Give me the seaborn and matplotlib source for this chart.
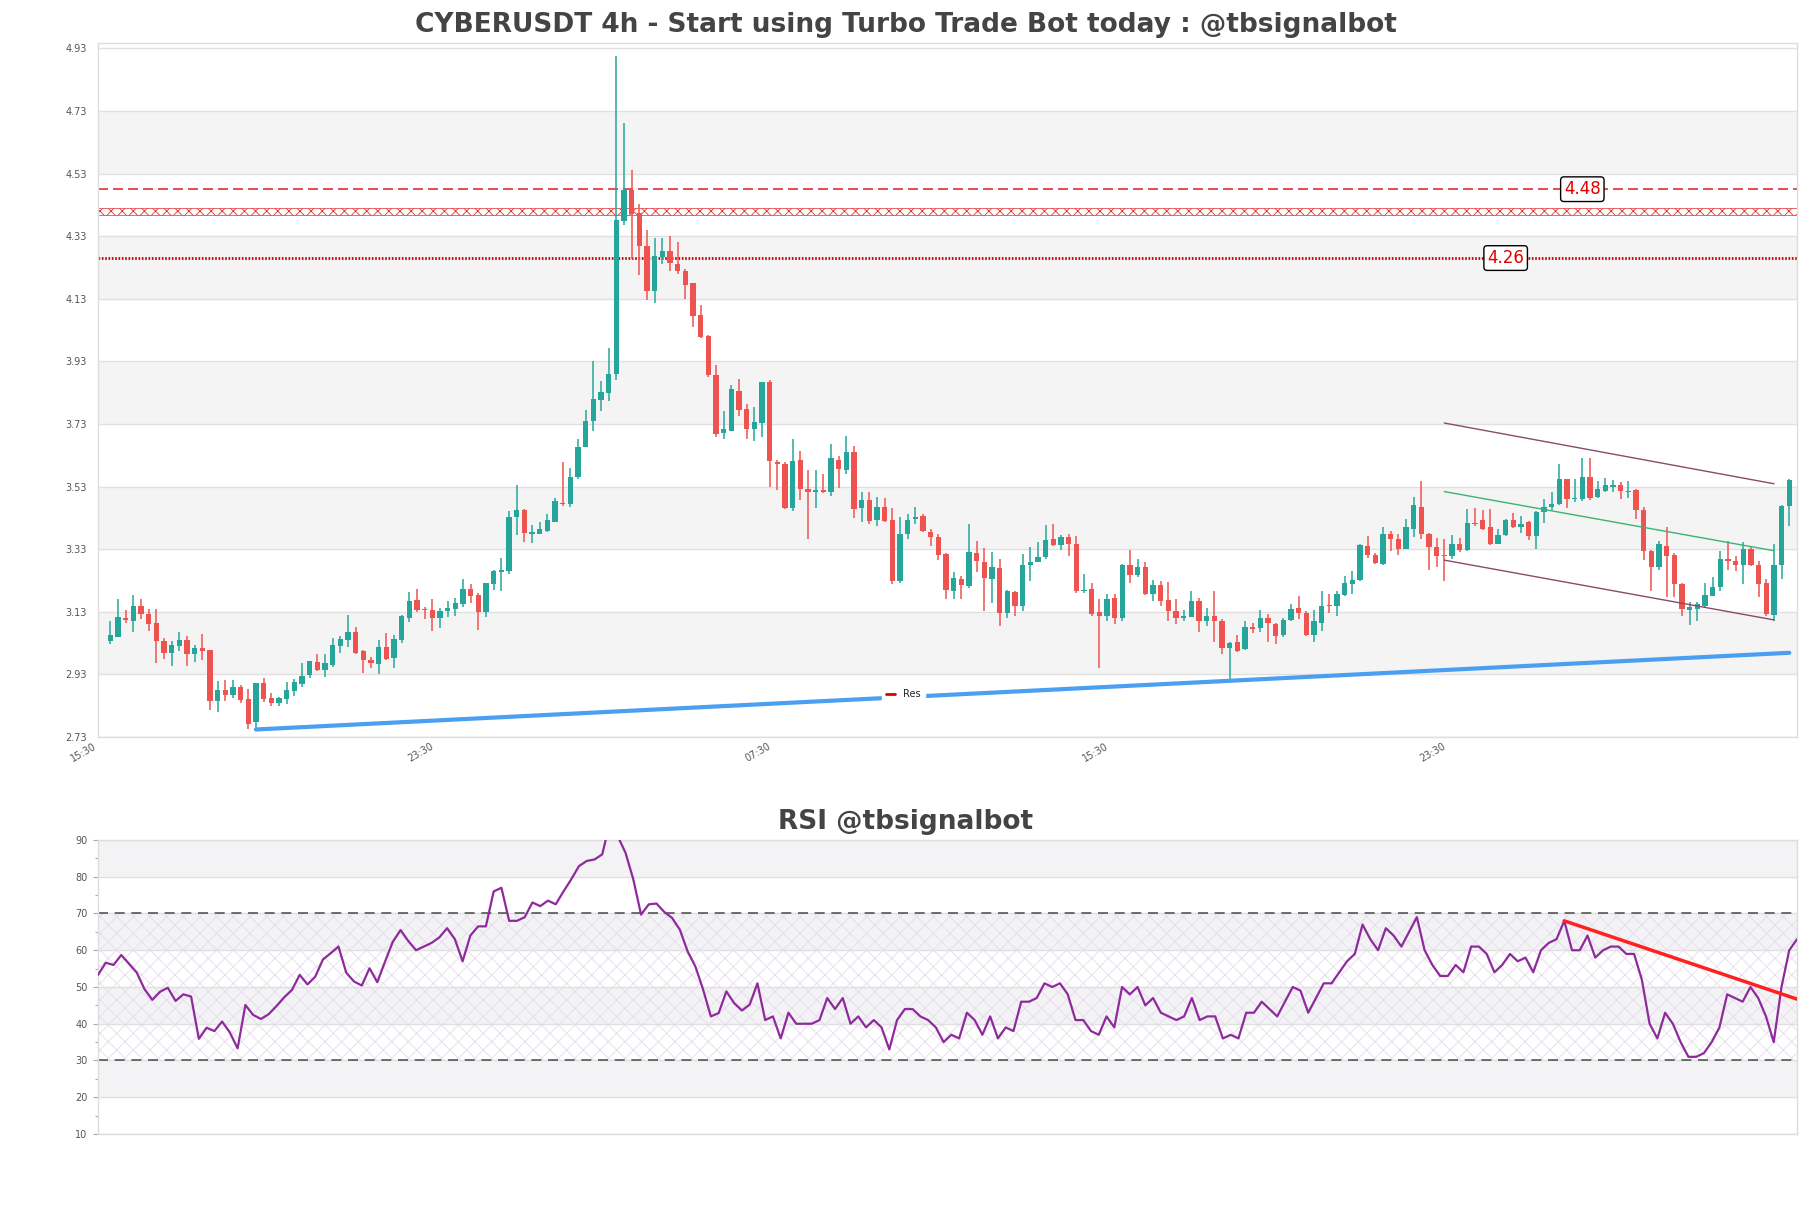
import numpy as np
import pandas as pd
import seaborn as sns
import matplotlib.pyplot as plt
from matplotlib.lines import Line2D

# ---- data ----
opens = [3.038, 3.050, 3.110, 3.101, 3.149, 3.124, 3.095, 3.037, 2.999, 3.021,
         3.040, 2.996, 3.014, 3.008, 2.845, 2.880, 2.865, 2.889, 2.852, 2.778,
         2.902, 2.855, 2.839, 2.852, 2.877, 2.899, 2.928, 2.969, 2.944, 2.960,
         3.021, 3.040, 3.065, 3.006, 2.976, 2.963, 3.017, 2.982, 3.040, 3.110,
         3.168, 3.139, 3.136, 3.110, 3.133, 3.139, 3.155, 3.203, 3.184, 3.130,
         3.219, 3.258, 3.261, 3.433, 3.455, 3.378, 3.380, 3.389, 3.418, 3.479,
         3.475, 3.561, 3.658, 3.740, 3.807, 3.830, 3.889, 4.378, 4.479, 4.403,
         4.300, 4.155, 4.264, 4.284, 4.241, 4.218, 4.179, 4.078, 4.010, 3.887,
         3.701, 3.709, 3.835, 3.778, 3.715, 3.732, 3.864, 3.610, 3.603, 3.461,
         3.616, 3.521, 3.514, 3.519, 3.514, 3.616, 3.584, 3.639, 3.461, 3.487,
         3.424, 3.466, 3.424, 3.229, 3.378, 3.427, 3.435, 3.386, 3.370, 3.315,
         3.195, 3.234, 3.211, 3.318, 3.289, 3.234, 3.270, 3.125, 3.193, 3.150,
         3.278, 3.289, 3.305, 3.364, 3.344, 3.369, 3.347, 3.197, 3.202, 3.128,
         3.115, 3.175, 3.111, 3.280, 3.248, 3.273, 3.187, 3.216, 3.168, 3.133,
         3.109, 3.114, 3.165, 3.101, 3.115, 3.101, 3.015, 3.034, 3.011, 3.080,
         3.077, 3.109, 3.091, 3.056, 3.103, 3.141, 3.125, 3.056, 3.095, 3.150,
         3.147, 3.184, 3.218, 3.230, 3.341, 3.313, 3.284, 3.377, 3.361, 3.331,
         3.393, 3.465, 3.377, 3.336, 3.313, 3.308, 3.348, 3.327, 3.414, 3.423,
         3.401, 3.348, 3.374, 3.422, 3.401, 3.416, 3.371, 3.448, 3.464, 3.473,
         3.553, 3.489, 3.491, 3.562, 3.497, 3.516, 3.530, 3.534, 3.512, 3.519,
         3.455, 3.323, 3.272, 3.341, 3.313, 3.220, 3.136, 3.139, 3.147, 3.182,
         3.208, 3.299, 3.293, 3.278, 3.329, 3.281, 3.222, 3.120, 3.281, 3.468]
highs = [3.099, 3.171, 3.136, 3.184, 3.171, 3.139, 3.139, 3.046, 3.037, 3.065,
         3.053, 3.024, 3.059, 3.008, 2.909, 2.912, 2.912, 2.896, 2.883, 2.902,
         2.918, 2.871, 2.858, 2.905, 2.915, 2.966, 2.973, 2.994, 2.994, 3.046,
         3.053, 3.120, 3.080, 3.008, 2.985, 3.040, 3.062, 3.056, 3.120, 3.194,
         3.203, 3.146, 3.171, 3.143, 3.165, 3.174, 3.235, 3.219, 3.190, 3.222,
         3.264, 3.303, 3.452, 3.535, 3.459, 3.407, 3.416, 3.441, 3.492, 3.607,
         3.589, 3.683, 3.776, 3.932, 3.866, 3.972, 4.904, 4.692, 4.540, 4.433,
         4.349, 4.323, 4.323, 4.330, 4.312, 4.224, 4.179, 4.109, 4.015, 3.919,
         3.772, 3.855, 3.875, 3.793, 3.784, 3.864, 3.869, 3.615, 3.607, 3.681,
         3.644, 3.584, 3.584, 3.569, 3.667, 3.629, 3.690, 3.660, 3.512, 3.512,
         3.498, 3.492, 3.461, 3.432, 3.441, 3.464, 3.441, 3.395, 3.378, 3.317,
         3.257, 3.245, 3.412, 3.357, 3.334, 3.321, 3.299, 3.200, 3.195, 3.315,
         3.337, 3.353, 3.408, 3.412, 3.376, 3.379, 3.371, 3.251, 3.221, 3.171,
         3.187, 3.187, 3.283, 3.328, 3.299, 3.289, 3.232, 3.229, 3.225, 3.171,
         3.136, 3.197, 3.173, 3.143, 3.197, 3.107, 3.034, 3.056, 3.099, 3.095,
         3.136, 3.123, 3.093, 3.109, 3.154, 3.181, 3.134, 3.136, 3.197, 3.187,
         3.195, 3.245, 3.261, 3.347, 3.373, 3.318, 3.401, 3.387, 3.377, 3.427,
         3.498, 3.548, 3.382, 3.366, 3.364, 3.374, 3.366, 3.459, 3.462, 3.455,
         3.457, 3.395, 3.428, 3.444, 3.436, 3.420, 3.452, 3.491, 3.512, 3.601,
         3.553, 3.553, 3.620, 3.620, 3.548, 3.558, 3.550, 3.545, 3.548, 3.521,
         3.464, 3.327, 3.355, 3.401, 3.318, 3.222, 3.160, 3.160, 3.222, 3.241,
         3.325, 3.355, 3.307, 3.352, 3.337, 3.291, 3.235, 3.345, 3.470, 3.553]
lows = [3.027, 3.048, 3.095, 3.065, 3.107, 3.069, 2.966, 2.979, 2.958, 3.006,
        2.958, 2.970, 2.976, 2.817, 2.810, 2.845, 2.855, 2.839, 2.757, 2.754,
        2.842, 2.829, 2.829, 2.836, 2.861, 2.889, 2.918, 2.942, 2.921, 2.953,
        2.999, 3.017, 2.996, 2.934, 2.950, 2.931, 2.976, 2.950, 3.030, 3.098,
        3.130, 3.107, 3.069, 3.078, 3.114, 3.117, 3.146, 3.158, 3.072, 3.114,
        3.200, 3.197, 3.251, 3.375, 3.353, 3.349, 3.378, 3.386, 3.416, 3.467,
        3.464, 3.555, 3.655, 3.709, 3.772, 3.804, 3.869, 4.367, 4.258, 4.207,
        4.127, 4.117, 4.241, 4.218, 4.209, 4.129, 4.041, 4.005, 3.881, 3.687,
        3.683, 3.707, 3.755, 3.683, 3.675, 3.687, 3.530, 3.519, 3.459, 3.452,
        3.487, 3.361, 3.461, 3.509, 3.500, 3.527, 3.569, 3.429, 3.418, 3.412,
        3.404, 3.418, 3.218, 3.221, 3.363, 3.409, 3.386, 3.340, 3.295, 3.170,
        3.170, 3.170, 3.205, 3.256, 3.131, 3.159, 3.086, 3.109, 3.118, 3.134,
        3.227, 3.288, 3.299, 3.339, 3.326, 3.307, 3.189, 3.189, 3.118, 2.951,
        3.101, 3.090, 3.099, 3.221, 3.240, 3.184, 3.163, 3.150, 3.102, 3.090,
        3.099, 3.112, 3.067, 3.085, 3.034, 2.994, 2.912, 3.000, 3.008, 3.061,
        3.067, 3.034, 3.026, 3.048, 3.099, 3.107, 3.054, 3.032, 3.069, 3.125,
        3.118, 3.181, 3.186, 3.229, 3.302, 3.284, 3.279, 3.323, 3.313, 3.329,
        3.368, 3.361, 3.265, 3.273, 3.227, 3.299, 3.320, 3.325, 3.404, 3.391,
        3.342, 3.345, 3.371, 3.398, 3.382, 3.359, 3.331, 3.414, 3.455, 3.471,
        3.462, 3.481, 3.484, 3.487, 3.494, 3.514, 3.514, 3.489, 3.492, 3.427,
        3.297, 3.195, 3.262, 3.177, 3.177, 3.115, 3.088, 3.099, 3.144, 3.180,
        3.195, 3.265, 3.259, 3.220, 3.275, 3.176, 3.117, 3.101, 3.235, 3.403]
closes = [3.056, 3.114, 3.104, 3.149, 3.124, 3.092, 3.037, 2.999, 3.024, 3.040,
          2.996, 3.014, 3.006, 2.845, 2.880, 2.865, 2.889, 2.849, 2.773, 2.902,
          2.852, 2.839, 2.855, 2.880, 2.905, 2.924, 2.973, 2.944, 2.966, 3.024,
          3.043, 3.065, 2.999, 2.976, 2.966, 3.017, 2.979, 3.043, 3.117, 3.165,
          3.136, 3.136, 3.110, 3.133, 3.143, 3.158, 3.203, 3.181, 3.130, 3.222,
          3.261, 3.261, 3.433, 3.455, 3.382, 3.384, 3.393, 3.424, 3.483, 3.473,
          3.561, 3.658, 3.740, 3.809, 3.832, 3.889, 4.380, 4.479, 4.401, 4.300,
          4.155, 4.266, 4.282, 4.243, 4.220, 4.175, 4.075, 4.007, 3.887, 3.698,
          3.715, 3.843, 3.775, 3.715, 3.735, 3.864, 3.612, 3.603, 3.461, 3.612,
          3.523, 3.513, 3.519, 3.514, 3.620, 3.586, 3.641, 3.458, 3.487, 3.421,
          3.466, 3.421, 3.229, 3.378, 3.424, 3.433, 3.389, 3.370, 3.313, 3.201,
          3.237, 3.214, 3.321, 3.291, 3.237, 3.273, 3.127, 3.195, 3.147, 3.280,
          3.289, 3.305, 3.360, 3.344, 3.369, 3.347, 3.197, 3.200, 3.123, 3.118,
          3.171, 3.111, 3.280, 3.246, 3.272, 3.187, 3.214, 3.163, 3.131, 3.109,
          3.117, 3.165, 3.101, 3.117, 3.099, 3.015, 3.031, 3.005, 3.080, 3.076,
          3.111, 3.093, 3.054, 3.104, 3.138, 3.125, 3.056, 3.101, 3.149, 3.147,
          3.187, 3.221, 3.232, 3.344, 3.310, 3.286, 3.377, 3.361, 3.329, 3.400,
          3.470, 3.380, 3.336, 3.309, 3.307, 3.348, 3.327, 3.414, 3.409, 3.396,
          3.345, 3.375, 3.423, 3.401, 3.412, 3.371, 3.449, 3.465, 3.473, 3.555,
          3.489, 3.492, 3.562, 3.492, 3.521, 3.534, 3.534, 3.516, 3.516, 3.455,
          3.323, 3.272, 3.345, 3.309, 3.219, 3.139, 3.144, 3.156, 3.184, 3.209,
          3.299, 3.291, 3.278, 3.332, 3.278, 3.220, 3.123, 3.281, 3.468, 3.550]

rsi = [53.3, 56.6, 56.0, 58.7, 56.3, 53.9, 49.4, 46.5, 48.7, 49.8,
       46.2, 48.0, 47.4, 35.9, 38.9, 38.0, 40.6, 37.6, 33.3, 45.1,
       42.4, 41.3, 42.6, 44.8, 47.2, 49.2, 53.3, 50.7, 52.8, 57.5,
       59.2, 61.0, 53.9, 51.5, 50.4, 55.1, 51.3, 56.9, 62.3, 65.5,
       62.5, 60.0, 61.0, 62.0, 63.5, 66.0, 63.0, 57.0, 64.0, 66.5,
       66.5, 76.0, 77.0, 68.0, 68.0, 69.0, 73.0, 72.0, 73.5, 72.5,
       76.0, 79.3, 82.9, 84.3, 84.7, 86.1, 95.0, 91.0, 86.5, 79.3,
       69.7, 72.5, 72.7, 70.4, 68.8, 65.6, 59.7, 55.6, 49.3, 42.0,
       42.9, 48.8, 45.6, 43.6, 45.2, 51.0, 41.0, 42.0, 36.0, 43.0,
       40.0, 40.0, 40.0, 41.0, 47.0, 44.0, 47.0, 40.0, 42.0, 39.0,
       41.0, 39.0, 33.0, 41.0, 44.0, 44.0, 42.0, 41.0, 39.0, 35.0,
       37.0, 36.0, 43.0, 41.0, 37.0, 42.0, 36.0, 39.0, 38.0, 46.0,
       46.0, 47.0, 51.0, 50.0, 51.0, 48.0, 41.0, 41.0, 38.0, 37.0,
       42.0, 39.0, 50.0, 48.0, 50.0, 45.0, 47.0, 43.0, 42.0, 41.0,
       42.0, 47.0, 41.0, 42.0, 42.0, 36.0, 37.0, 36.0, 43.0, 43.0,
       46.0, 44.0, 42.0, 46.0, 50.0, 49.0, 43.0, 47.0, 51.0, 51.0,
       54.0, 57.0, 59.0, 67.0, 63.0, 60.0, 66.0, 64.0, 61.0, 65.0,
       69.0, 60.0, 56.0, 53.0, 53.0, 56.0, 54.0, 61.0, 61.0, 59.0,
       54.0, 56.0, 59.0, 57.0, 58.0, 54.0, 60.0, 62.0, 63.0, 68.0,
       60.0, 60.0, 64.0, 58.0, 60.0, 61.0, 61.0, 59.0, 59.0, 52.0,
       40.0, 36.0, 43.0, 40.0, 35.0, 31.0, 31.0, 32.0, 35.0, 39.0,
       48.0, 47.0, 46.0, 50.0, 47.0, 42.0, 35.0, 50.0, 60.0, 63.0]

time_labels = ["15:30", "23:30", "07:30", "15:30", "23:30"]
time_ticks = [-1.6, 42.4, 86.4, 130.4, 174.4]
price_ticks = [2.73, 2.93, 3.13, 3.33, 3.53, 3.73, 3.93, 4.13, 4.33, 4.53, 4.73, 4.93]

res_level = 4.48
mid_band = (4.398, 4.419)
sup_level = 4.26

support_x = [19, 219]
support_y = [2.754, 2.999]
chan_x = [174, 217]
chan_upper = [3.733, 3.539]
chan_mid = [3.514, 3.325]
chan_lower = [3.295, 3.104]
rsi_trend_x = [189, 219]
rsi_trend_y = [68.0, 46.7]

df = pd.DataFrame({"open": opens, "high": highs, "low": lows, "close": closes})
df["idx"] = np.arange(len(df))
df["up"] = df["close"] >= df["open"]

GREEN = "#26a69a"
RED = "#ef5350"

sns.set_theme(style="whitegrid")
plt.rcParams["font.family"] = ["DejaVu Sans"]
plt.rcParams["hatch.linewidth"] = 0.6

fig = plt.figure(figsize=(18.11, 12.08), dpi=100)
ax = fig.add_axes([0.05411, 0.38990, 0.93816, 0.57450])
ax2 = fig.add_axes([0.05411, 0.06126, 0.93816, 0.24338])

for a in (ax, ax2):
    a.set_facecolor("white")
    a.grid(False)
    for s in a.spines.values():
        s.set_color("#dddddd")
        s.set_linewidth(1)

# ---- price panel ----
for lo, hi in zip(price_ticks[1::2], price_ticks[2::2]):
    ax.axhspan(lo, hi, color="#f4f4f4", zorder=0, lw=0)
for t in price_ticks:
    ax.axhline(t, color="#e0e0e0", lw=1, zorder=0.5)

colors = np.where(df["up"], GREEN, RED)
ax.vlines(df["idx"], df["low"], df["high"], colors=colors, lw=1.1, zorder=3)
body_lo = np.minimum(df["open"], df["close"])
body_h = np.maximum((df["close"] - df["open"]).abs(), 0.004)
ax.bar(df["idx"], body_h, bottom=body_lo, width=0.7, color=colors, lw=0, zorder=4)

ax.axhline(res_level, color="#e03030", lw=1.2, ls=(0, (6, 3)), zorder=2)
ax.axhspan(*mid_band, facecolor="none", edgecolor="#e03030", hatch="xxx", lw=0.5, zorder=2)
ax.axhline(sup_level, color="#cc0000", lw=2.0, ls=(0, (0.6, 0.6)), zorder=2)

box = dict(boxstyle="round,pad=0.2", fc="white", ec="black", lw=1)
ax.text(192, res_level, f"{res_level:.2f}", color="#e00000", fontsize=12,
        ha="center", va="center", bbox=box, zorder=6)
ax.text(182, sup_level, f"{sup_level:.2f}", color="#e00000", fontsize=12,
        ha="center", va="center", bbox=box, zorder=6)

sns.lineplot(x=support_x, y=support_y, ax=ax, color="#4a9ff0", lw=3, zorder=5)
sns.lineplot(x=chan_x, y=chan_upper, ax=ax, color="#8b4a6b", lw=1, zorder=5)
sns.lineplot(x=chan_x, y=chan_lower, ax=ax, color="#8b4a6b", lw=1, zorder=5)
sns.lineplot(x=chan_x, y=chan_mid, ax=ax, color="#3cb371", lw=1, zorder=5)

ax.set_xlim(-1, len(df))
ax.set_ylim(2.73, 4.947)
ax.set_yticks(price_ticks)
ax.set_yticklabels([f"{t:.2f}" for t in price_ticks])
ax.set_xticks(time_ticks)
ax.set_xticklabels(time_labels, rotation=30, ha="right")
ax.tick_params(axis="y", length=0, pad=8, labelsize=7, labelcolor="#555555")
ax.tick_params(axis="x", length=0, pad=3, labelsize=7, labelcolor="#555555")
ax.set_xlabel("")
ax.set_ylabel("")
fig.text(0.5, 0.979, "CYBERUSDT 4h - Start using Turbo Trade Bot today : @tbsignalbot",
         fontsize=19, fontweight="bold", color="#444444", ha="center", va="center")

leg = ax.legend(handles=[Line2D([0], [0], color="#dd0000", lw=2)], labels=["Res"],
                loc="center", bbox_to_anchor=(0.474, 0.062), fontsize=7,
                handlelength=1, frameon=True, framealpha=1, edgecolor="white",
                fancybox=False, borderpad=0.4)
leg.set_zorder(7)

# ---- RSI panel ----
for lo in (20, 40, 60, 80):
    ax2.axhspan(lo, lo + 10, color="#f3f3f5", zorder=0, lw=0)
for t in range(10, 100, 10):
    ax2.axhline(t, color="#e0e0e0", lw=1, zorder=0.5)
ax2.axhspan(30, 70, facecolor="none", edgecolor="#e6dbeb", hatch="xx", lw=0, zorder=1)
ax2.axhline(70, color="#555555", lw=1.2, ls=(0, (6, 4)), zorder=2)
ax2.axhline(30, color="#555555", lw=1.2, ls=(0, (6, 4)), zorder=2)

sns.lineplot(x=df["idx"], y=rsi, ax=ax2, color="#8e2a9c", lw=1.6, zorder=4)
sns.lineplot(x=rsi_trend_x, y=rsi_trend_y, ax=ax2, color="#ff2020", lw=2.5, zorder=5)

ax2.set_xlim(0, len(df) - 1)
ax2.set_ylim(10, 90)
ax2.set_yticks(range(10, 100, 10))
ax2.set_yticks(range(15, 90, 10), minor=True)
ax2.set_xticks([])
ax2.tick_params(axis="y", which="major", length=3.5, width=0.8, color="#aaaaaa",
                pad=4, labelsize=7, labelcolor="#555555", left=True)
ax2.tick_params(axis="y", which="minor", length=2, width=0.8, color="#aaaaaa", left=True)
ax2.set_xlabel("")
ax2.set_ylabel("")
fig.text(0.5, 0.3195, "RSI @tbsignalbot", fontsize=19, fontweight="bold",
         color="#444444", ha="center", va="center")

plt.savefig("out.png", dpi=100)
